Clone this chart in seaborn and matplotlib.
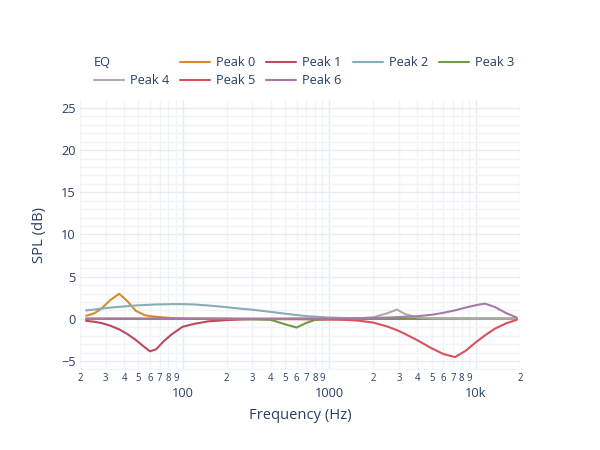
import matplotlib
matplotlib.use("Agg")
import matplotlib.pyplot as plt
import pandas as pd
import seaborn as sns
from matplotlib.ticker import FixedLocator, FixedFormatter
from matplotlib.lines import Line2D

# ---------------- data ----------------
freq_hz = [22, 25, 28, 32, 37, 42, 48, 55, 60, 66, 75, 85, 100, 120, 150,
           200, 250, 300, 400, 500, 600, 700, 800, 1000, 1300, 1600, 2000,
           2500, 2900, 3300, 4000, 5000, 6000, 7200, 8500, 10000, 11500,
           13500, 16000, 19000]

peak_0 = [0.36, 0.65, 1.2, 2.2, 2.97, 2.1, 0.95, 0.45, 0.32, 0.24, 0.16, 0.09,
          0.05, 0.02, 0.01, 0, 0, 0, 0, 0, 0, 0, 0, 0, 0, 0, 0,
          0, 0, 0, 0, 0, 0, 0, 0, 0, 0, 0, 0, 0]
peak_1 = [-0.24, -0.35, -0.5, -0.8, -1.25, -1.8, -2.5, -3.35, -3.85, -3.62,
          -2.6, -1.8, -0.95, -0.6, -0.3, -0.15, -0.08, -0.05, -0.02, -0.01,
          0, 0, 0, 0, 0, 0, 0, 0, 0, 0, 0, 0, 0, 0, 0, 0, 0, 0, 0, 0]
peak_2 = [0.99, 1.1, 1.22, 1.32, 1.42, 1.5, 1.58, 1.64, 1.67, 1.7, 1.72, 1.74,
          1.74, 1.7, 1.58, 1.38, 1.2, 1.08, 0.82, 0.61, 0.45, 0.32, 0.26, 0.15,
          0.1, 0.07, 0.05, 0.03, 0.02, 0.01, 0, 0, 0, 0, 0, 0, 0, 0, 0, 0]
peak_3 = [0, 0, 0, 0, 0, 0, 0, 0, 0, 0, 0, 0, 0, 0, 0, 0,
          -0.03, -0.05, -0.12, -0.65, -1.03, -0.48, -0.13, -0.04, -0.01,
          0, 0, 0, 0, 0, 0, 0, 0, 0, 0, 0, 0, 0, 0, 0]
peak_4 = [0, 0, 0, 0, 0, 0, 0, 0, 0, 0, 0, 0, 0, 0, 0, 0, 0, 0, 0, 0, 0, 0, 0,
          0.01, 0.02, 0.05, 0.19, 0.67, 1.1, 0.56, 0.15, 0.04, 0.02, 0.01,
          0, 0, 0, 0, 0, 0]
peak_5 = [0, 0, 0, 0, 0, 0, 0, 0, 0, 0, 0, 0, -0.01, -0.01, -0.01,
          -0.01, -0.02, -0.02, -0.03, -0.04, -0.05, -0.06, -0.07, -0.09,
          -0.13, -0.22, -0.45, -0.92, -1.35, -1.8, -2.55, -3.5, -4.17, -4.54,
          -3.8, -2.78, -1.98, -1.17, -0.55, -0.12]
peak_6 = [0, 0, 0, 0, 0, 0, 0, 0, 0, 0, 0, 0, 0, 0, 0, 0, 0, 0, 0, 0,
          0.01, 0.01, 0.02, 0.03, 0.04, 0.06, 0.1, 0.15, 0.19, 0.25, 0.31,
          0.48, 0.71, 1.0, 1.33, 1.61, 1.81, 1.4, 0.7, 0.15]

series_names = ["Peak 0", "Peak 1", "Peak 2", "Peak 3", "Peak 4", "Peak 5", "Peak 6"]
series_values = [peak_0, peak_1, peak_2, peak_3, peak_4, peak_5, peak_6]
series_colors = ["#d98a2c", "#bb4a5c", "#88adb4", "#6e9a4a", "#ababab", "#d9525a", "#a57ba6"]

y_ticks = [-5, 0, 5, 10, 15, 20, 25]
y_minor_ticks = [-6, -4, -3, -2, -1, 1, 2, 3, 4, 6, 7, 8, 9, 11, 12, 13, 14,
                 16, 17, 18, 19, 21, 22, 23, 24]
x_major_ticks = [100, 1000, 10000]
x_major_labels = ["100", "1000", "10k"]
x_minor_ticks = [20, 30, 40, 50, 60, 70, 80, 90,
                 200, 300, 400, 500, 600, 700, 800, 900,
                 2000, 3000, 4000, 5000, 6000, 7000, 8000, 9000, 20000]
x_minor_labels = ["2", "3", "4", "5", "6", "7", "8", "9",
                  "2", "3", "4", "5", "6", "7", "8", "9",
                  "2", "3", "4", "5", "6", "7", "8", "9", "2"]

# ---------------- long-form table ----------------
rows = []
for name, vals in zip(series_names, series_values):
    for f, v in zip(freq_hz, vals):
        rows.append({"Frequency (Hz)": f, "SPL (dB)": v, "EQ": name})
df = pd.DataFrame(rows)

# ---------------- style ----------------
sns.set_theme(style="white")
plt.rcParams["font.family"] = ["Open Sans", "DejaVu Sans"]
TXT = "#2a3f5f"
FS = 9.2

fig = plt.figure(figsize=(6, 4.5), dpi=100)
ax = fig.add_axes([80 / 600, 80 / 450, 440 / 600, 270 / 450])

sns.lineplot(data=df, x="Frequency (Hz)", y="SPL (dB)", hue="EQ",
             hue_order=series_names, palette=dict(zip(series_names, series_colors)),
             linewidth=1.5, legend=False, ax=ax, zorder=3)

ax.set_xscale("log")
ax.set_xlim(20, 20000)
ax.set_ylim(-6.07, 25.95)

ax.xaxis.set_major_locator(FixedLocator(x_major_ticks))
ax.xaxis.set_major_formatter(FixedFormatter(x_major_labels))
ax.xaxis.set_minor_locator(FixedLocator(x_minor_ticks))
ax.xaxis.set_minor_formatter(FixedFormatter(x_minor_labels))
ax.yaxis.set_major_locator(FixedLocator(y_ticks))
ax.yaxis.set_minor_locator(FixedLocator(y_minor_ticks))

ax.tick_params(axis="x", which="major", length=0, pad=12, labelsize=FS, labelcolor=TXT)
ax.tick_params(axis="x", which="minor", length=0, pad=2.5, labelsize=6.9, labelcolor=TXT)
ax.tick_params(axis="y", which="major", length=0, pad=3, labelsize=FS, labelcolor=TXT)
ax.tick_params(axis="y", which="minor", length=0)

ax.grid(which="major", color="#e6ebf4", linewidth=1, zorder=0)
ax.grid(which="minor", color="#f1f4f9", linewidth=1, zorder=0)
ax.set_axisbelow(True)
for s in ax.spines.values():
    s.set_visible(False)

ax.set_xlabel("Frequency (Hz)", fontsize=10.6, color=TXT, labelpad=6)
ax.set_ylabel("SPL (dB)", fontsize=10.6, color=TXT, labelpad=10)

# ---------------- legend (plotly-like horizontal layout) ----------------
col = dict(zip(series_names, series_colors))
order = ["", "Peak 4", "Peak 0", "Peak 5", "Peak 1", "Peak 6", "Peak 2", "Peak 3"]
handles = [Line2D([], [], color="none") if n == "" else
           Line2D([], [], color=col[n], linewidth=1.5) for n in order]
leg = fig.legend(handles, order, loc="upper left", bbox_to_anchor=(94 / 600, 1 - 56 / 450),
                 ncol=5, frameon=False, fontsize=FS, handlelength=2.35,
                 handletextpad=0.47, columnspacing=0.85, labelspacing=0.42,
                 borderpad=0, borderaxespad=0)
for t in leg.get_texts():
    t.set_color(TXT)
fig.text(94 / 600, 1 - 62 / 450, "EQ", fontsize=FS, color=TXT, va="center", ha="left")

fig.savefig("out.png", dpi=100)
